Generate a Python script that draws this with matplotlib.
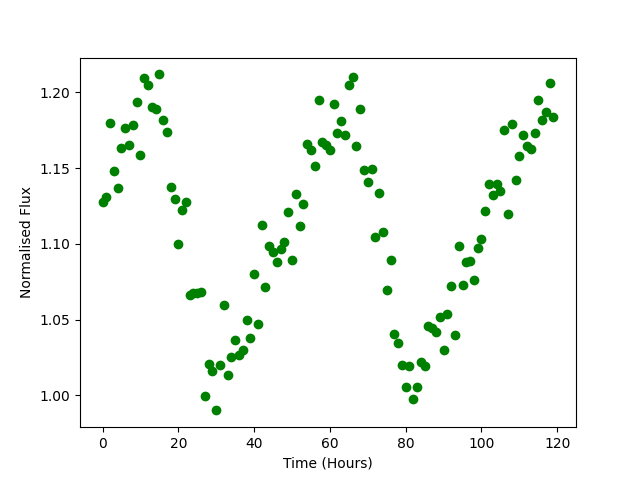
import numpy as np
import matplotlib
matplotlib.use("Agg")
import matplotlib.pyplot as plt

hours = np.arange(0, 120)
flux = [
    1.1274, 1.1311, 1.1795, 1.1479, 1.1369, 1.1630, 1.1762, 1.1650, 1.1782, 1.1936,
    1.1584, 1.2092, 1.2046, 1.1903, 1.1888, 1.2119, 1.1815, 1.1736, 1.1373, 1.1294,
    1.0999, 1.1221, 1.1274, 1.0664, 1.0673, 1.0678, 1.0680, 0.9993, 1.0205, 1.0163,
    0.9901, 1.0200, 1.0594, 1.0134, 1.0255, 1.0363, 1.0266, 1.0299, 1.0495, 1.0376,
    1.0799, 1.0469, 1.1122, 1.0713, 1.0983, 1.0944, 1.0882, 1.0964, 1.1012, 1.1210,
    1.0891, 1.1327, 1.1116, 1.1261, 1.1657, 1.1617, 1.1512, 1.1947, 1.1674, 1.1652,
    1.1619, 1.1923, 1.1729, 1.1811, 1.1716, 1.2048, 1.2099, 1.1644, 1.1888, 1.1485,
    1.1406, 1.1492, 1.1043, 1.1333, 1.1076, 1.0695, 1.0891, 1.0405, 1.0345, 1.0200,
    1.0053, 1.0191, 0.9974, 1.0057, 1.0222, 1.0191, 1.0458, 1.0442, 1.0420, 1.0519,
    1.0297, 1.0535, 1.0719, 1.0398, 1.0983, 1.0726, 1.0878, 1.0887, 1.0759, 1.0970,
    1.1030, 1.1215, 1.1393, 1.1325, 1.1393, 1.1347, 1.1749, 1.1195, 1.1791, 1.1419,
    1.1578, 1.1716, 1.1646, 1.1624, 1.1729, 1.1947, 1.1815, 1.1870, 1.2059, 1.1835,
]

fig = plt.figure(figsize=(6.4, 4.8), dpi=100)
plt.plot(hours, flux, 'go')
plt.xlabel('Time (Hours)')
plt.ylabel('Normalised Flux')
plt.savefig('out.png')
